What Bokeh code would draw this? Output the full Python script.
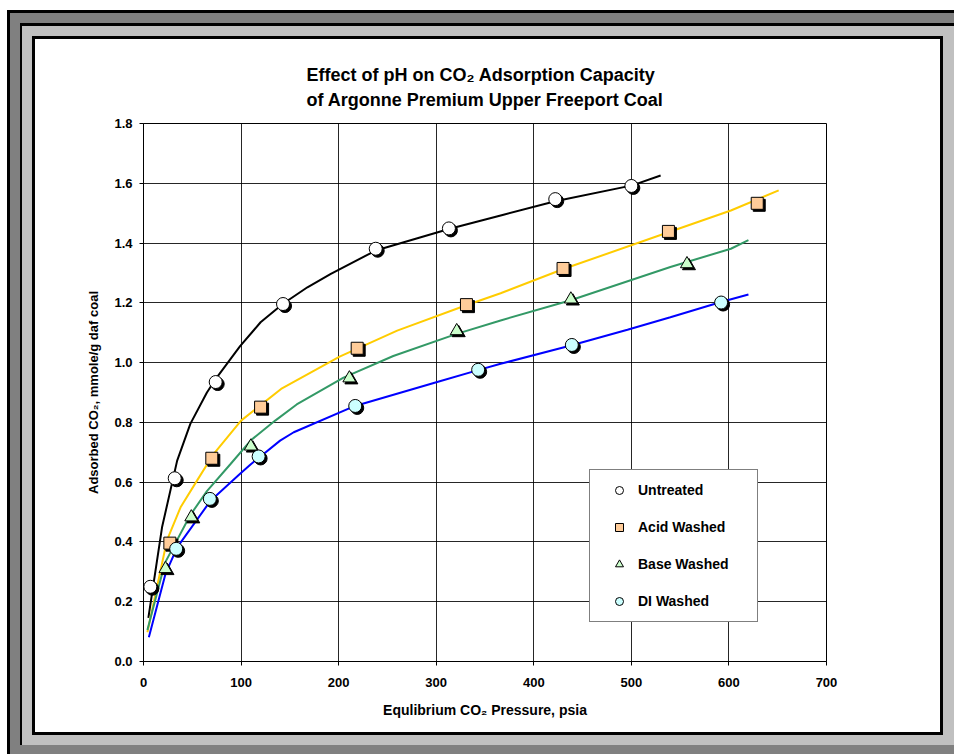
from bokeh.plotting import figure
from bokeh.models import (Range1d, SingleIntervalTicker, PrintfTickFormatter, Title,
                          Legend, LegendItem, ColumnDataSource)
from bokeh.transform import dodge
from bokeh.embed import file_html
from bokeh.resources import INLINE

# ---------------- data ----------------
untreated_x = [7, 32, 74, 143, 238, 313, 422, 500]
untreated_y = [0.250, 0.613, 0.935, 1.196, 1.381, 1.449, 1.547, 1.591]
acid_x = [27, 70, 120, 219, 331, 430, 538, 629]
acid_y = [0.396, 0.680, 0.851, 1.048, 1.194, 1.315, 1.439, 1.533]
base_x = [22.5, 49, 110, 211, 321, 438, 557]
base_y = [0.310, 0.483, 0.720, 0.948, 1.106, 1.212, 1.330]
di_x = [33.5, 68, 118, 217, 343, 439, 592]
di_y = [0.377, 0.544, 0.686, 0.855, 0.976, 1.059, 1.201]

# fitted curves
untreated_fit_x = [5, 19, 34.5, 48, 65, 75, 99, 120, 143, 168, 192, 238, 313, 369, 422, 501, 530]
untreated_fit_y = [0.146, 0.449, 0.672, 0.795, 0.900, 0.950, 1.055, 1.135, 1.197, 1.252, 1.297,
                   1.375, 1.447, 1.495, 1.540, 1.593, 1.626]
acid_fit_x = [4, 24, 38, 55, 72, 100, 141, 201, 260, 330, 366, 431, 538, 602, 651]
acid_fit_y = [0.098, 0.405, 0.516, 0.606, 0.695, 0.806, 0.912, 1.020, 1.107, 1.191, 1.232,
              1.314, 1.436, 1.509, 1.576]
base_fit_x = [4, 22, 48, 65, 89, 110, 135, 157, 205, 256, 321, 366, 437, 540, 602, 620]
base_fit_y = [0.105, 0.330, 0.490, 0.570, 0.660, 0.740, 0.806, 0.860, 0.950, 1.022, 1.096,
              1.141, 1.208, 1.320, 1.381, 1.410]
di_fit_x = [5.5, 22.5, 34.5, 69, 99, 110, 140, 154, 215, 301, 342, 366, 438, 496, 540, 591, 620]
di_fit_y = [0.081, 0.293, 0.382, 0.539, 0.628, 0.660, 0.739, 0.767, 0.853, 0.935, 0.974, 0.996,
            1.057, 1.110, 1.152, 1.202, 1.228]

series_names = ["Untreated", "Acid Washed", "Base Washed", "DI Washed"]
title_lines = ["Effect of pH on CO\u2082 Adsorption Capacity",
               "of Argonne Premium Upper Freeport Coal"]
x_ticks_interval = 100
y_ticks_interval = 0.2

# ---------------- figure ----------------
W, H = 954, 754
ML, MR, MT, MB = 143, 128, 123, 93
XMAX, YMAX = 700, 1.8
FONT = "Liberation Sans"

# decorative nested frames painted as CSS background layers behind a transparent canvas
def layer(color, l, t, r, b):
    return f"linear-gradient({color},{color}) {l}px {t}px / {r - l}px {b - t}px no-repeat"

frames = ", ".join([
    layer("#ffffff", 35, 39, 940, 732),
    layer("#000000", 32, 36, 943, 735),
    layer("#c0c0c0", 22, 26, 954, 745),
    layer("#000000", 20, 23, 954, 745),
    layer("#808080", 10, 13, 954, 754),
    layer("#000000", 7, 10, 954, 754),
])

p = figure(width=W, height=H, output_backend="svg", toolbar_location=None,
           x_range=Range1d(0, XMAX), y_range=Range1d(0, YMAX),
           min_border_left=ML, min_border_right=MR, min_border_top=MT, min_border_bottom=MB,
           border_fill_color="white", border_fill_alpha=0.0,
           background_fill_color="white", background_fill_alpha=1.0,
           outline_line_color="black", outline_line_width=1,
           styles={"background": frames})

# two-line title
p.add_layout(Title(text="\n".join(title_lines), align="center",
                   text_font=FONT, text_font_size="18px", text_font_style="bold",
                   text_color="black", text_line_height=1.25, standoff=28), "above")

# axes
p.xaxis.ticker = SingleIntervalTicker(interval=x_ticks_interval)
p.yaxis.ticker = SingleIntervalTicker(interval=y_ticks_interval)
p.yaxis.formatter = PrintfTickFormatter(format="%.1f")
for ax in (p.xaxis, p.yaxis):
    ax.minor_tick_line_color = None
    ax.major_tick_in = 0
    ax.major_tick_out = 4
    ax.axis_line_color = "black"
    ax.major_tick_line_color = "black"
    ax.major_label_text_font = FONT
    ax.major_label_text_font_style = "bold"
    ax.major_label_text_font_size = "13px"
    ax.major_label_text_color = "black"
    ax.axis_label_text_font = FONT
    ax.axis_label_text_font_style = "bold"
    ax.axis_label_text_color = "black"
p.xaxis.axis_label = "Equlibrium CO\u2082 Pressure, psia"
p.yaxis.axis_label = "Adsorbed CO\u2082, mmole/g daf coal"
p.xaxis.axis_label_text_font_size = "14px"
p.yaxis.axis_label_text_font_size = "13px"
p.xaxis.major_label_standoff = 12
p.yaxis.major_label_standoff = 7
p.xaxis.axis_label_standoff = 12
p.yaxis.axis_label_standoff = 10

for g in (p.xgrid, p.ygrid):
    g.grid_line_color = "black"
    g.grid_line_alpha = 0.85
    g.grid_line_width = 1

# fitted lines
p.line(untreated_fit_x, untreated_fit_y, line_color="black", line_width=2)
p.line(acid_fit_x, acid_fit_y, line_color="#FFCC00", line_width=2)
p.line(base_fit_x, base_fit_y, line_color="#339966", line_width=2)
p.line(di_fit_x, di_fit_y, line_color="#0000FF", line_width=2)

# markers with drop shadows
dx = 2.0 * XMAX / (W - ML - MR)
dy = -2.0 * YMAX / (H - MT - MB)
specs = [
    (untreated_x, untreated_y, "circle", "white", 13),
    (acid_x, acid_y, "square", "#FFCC99", 12),
    (base_x, base_y, "triangle", "#CCFFCC", 13),
    (di_x, di_y, "circle", "#CCFFFF", 13),
]
items = []
for name, (xs, ys, marker, fill, size) in zip(series_names, specs):
    src = ColumnDataSource(dict(x=xs, y=ys))
    p.scatter(x=dodge("x", dx, range=p.x_range), y=dodge("y", dy, range=p.y_range),
              source=src, marker=marker, size=size, fill_color="black", line_color="black")
    r = p.scatter(x="x", y="y", source=src, marker=marker, size=size,
                  fill_color=fill, line_color="black", line_width=1)
    items.append(LegendItem(label=name, renderers=[r]))

legend = Legend(items=items, location=(446, 39), orientation="vertical",
                glyph_width=38, glyph_height=20, label_height=20, label_width=109,
                label_standoff=0, spacing=17, padding=10, margin=0,
                border_line_color="black", border_line_width=1,
                background_fill_color="white", background_fill_alpha=1.0,
                label_text_font=FONT, label_text_font_style="bold",
                label_text_font_size="14px", label_text_color="black")
p.add_layout(legend, "center")

open("out.html", "w").write(file_html(p, INLINE))
